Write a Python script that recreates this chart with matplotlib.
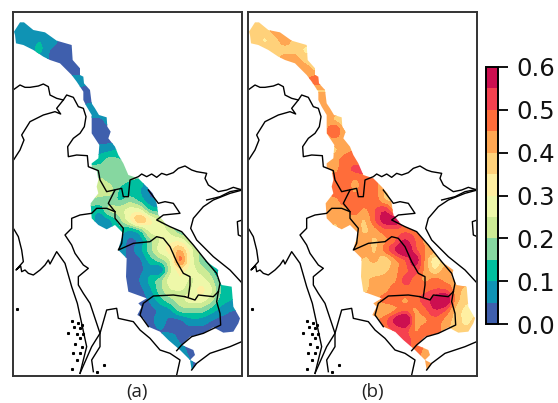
import numpy as np
import matplotlib
matplotlib.use("Agg")
import matplotlib.pyplot as plt
from matplotlib.colors import ListedColormap, BoundaryNorm
from matplotlib.patches import Polygon
from matplotlib.cm import ScalarMappable

W, H = 558, 403

# class limits and colours of the colour bar
levels = [0, .05, .1, .15, .2, .25, .3, .35, .4, .45, .5, .55, .6]
colors = ["#3F5FAD", "#0F93B4", "#00BF9F", "#86D7A0", "#CDEB95", "#EEF8A9",
          "#FFEFA1", "#FFD17A", "#FFA652", "#FF6D3A", "#F5414F", "#CC0F50"]
cbar_ticks = [0.0, 0.1, 0.2, 0.3, 0.4, 0.5, 0.6]

basin_right_upper = [(42,95),(60,67),(72,67),(100,90),(135,97),(170,122),(215,135),(218,180),(240,205),(240,225),
                     (250,230),(252,250),(270,270),(275,310),(285,325),(297,345),(320,352),(322,380),(332,395),
                     (325,415),(345,440),(355,465),(370,490),(385,525),(415,535),(440,560),(458,580)]
basin_lower = [(470,40),(475,75),(500,105),(545,125),(580,165),(620,215),(655,240),(650,260),(665,285),(695,290),
               (700,350),(720,385),(715,400),(700,425),(670,428),(640,412),(610,430),(570,440),(545,465),(580,480),
               (585,495),(570,510),(575,540),(590,520),(570,510),(540,480),(505,450),(480,425),(445,410),(430,385),
               (412,375),(425,350),(415,340),(440,325),(385,305),(378,260),(380,205),(355,180),(360,160),(370,130),
               (345,105),(320,118),(295,105),(275,85),(272,40),(295,10)]
basin_left_upper = [(290,560),(295,540),(290,510),(275,505),(275,490),(295,475),(298,435),(275,400),(275,345),
                    (260,320),(250,300),(250,275),(230,245),(215,225),(180,190),(150,180),(130,170),(100,150),
                    (70,135),(48,130),(45,105)]

china_upper = [(42,268),(60,255),(75,262),(90,262),(115,258),(130,252),(145,260),(150,285),(170,295),(190,300),(200,285),
               (220,292),(235,320),(250,325),(258,350),(253,380),(240,400),(220,415),(203,440),(205,470),(230,465),
               (262,467),(265,500),(295,512),(300,540),(320,575),(365,565),(370,590),(385,590),(390,540),(415,530),
               (425,522),(440,530),(455,522),(470,532),(485,520),(500,525),(520,518),(535,505),(555,498),(575,510),
               (590,515),(620,520),(615,535),(625,555),(655,575),(680,570),(700,562),(727,570)]
india_upper = [(42,478),(60,450),(72,420),(65,405),(90,365),(130,345),(165,335),(182,342),(170,325),(190,300)]
coast_north_upper = [(620,600),(660,590),(690,575),(727,568)]
lao_thai = [(345,0),(325,40),(345,65),(345,85),(370,115),(365,160),(355,180),(400,160),(450,155),(470,140),(490,145),
            (510,170),(530,215),(550,250),(570,260),(570,285),(565,320)]
lao_cam = [(555,320),(585,330),(595,315),(640,320),(655,305)]
thai_cam = [(555,320),(520,315),(460,318),(430,340),(420,375),(445,410)]
cam_viet = [(655,305),(650,335),(660,370),(662,405),(610,430),(575,440),(545,465),(530,482)]
viet_lao = [(655,305),(660,280),(650,250),(620,215),(580,165),(545,125),(510,110),(470,90),(490,75),(540,70),(520,40),
            (495,35),(475,40),(445,0)]
thai_burma_n = [(345,65),(320,55),(290,55),(275,70),(240,75),(215,85),(215,115),(195,135),(215,165),(225,190),(250,225),
                (265,235),(235,260),(235,285),(250,310),(270,340),(290,400),(300,430),(275,470),(240,550)]
gulf_coast = [(280,545),(275,510),(300,470),(300,430),(320,360),(350,355),(355,385),(400,395),(420,420),(450,445),
              (480,480),(510,490),(540,510),(530,555)]
viet_coast = [(727,280),(690,240),(640,200),(590,150),(572,115),(580,85),(610,50),(640,30),(690,10),(727,0)]
burma_coast = [(42,118),(55,140),(65,180),(70,215),(48,240),(62,228),(65,245),(75,240),(85,250),(100,255),(120,240),
               (135,225),(145,210),(150,222),(170,185),(195,220),(215,290),(232,340),(245,400),(260,470),(240,550)]
south_coast = [(575,540),(590,520),(630,490),(690,470),(725,455)]
hainan = [(727,90),(712,95),(715,135),(727,140)]
islands = [(52,358),(215,392),(235,398),(245,405),(222,410),(240,415),(205,430),(232,432),(250,432),(240,445),(225,462),
           (245,470),(220,490),(240,490),(232,510),(215,538),(312,525),(290,545)]

# grid rows {y: (first x, values in percent)} step 10 in image pixels
panel_a = {
    20: (10, [8,8,8]),
    30: (10, [8,8,8,8,8]),
    40: (10, [8,8,8,10,8,4,4]),
    50: (20, [8,8,12,4,4,4]),
    60: (40, [8,4,2,2,2]),
    70: (60, [2,2,2]),
    80: (70, [8,8]),
    90: (80, [3,3]),
    100: (80, [3,3]),
    110: (90, [10,10]),
    120: (90, [3,3,8]),
    130: (90, [3,3,3]),
    140: (100, [3,3]),
    150: (100, [8,8,12]),
    160: (90, [12,12,18,15]),
    170: (90, [18,18,18,18]),
    180: (100, [21,18,18,15]),
    190: (100, [23,23,13,10,10,3]),
    200: (90, [20,18,18,13,18,12,5]),
    210: (90, [12,10,23,23,28,26,12]),
    220: (90, [13,5,8,18,30,46,32,23]),
    230: (100, [10,8,13,8,13,28,28,23,13]),
    240: (120, [8,3,5,18,25,28,28,18]),
    250: (120, [8,3,8,18,28,33,42,28,18]),
    260: (130, [3,3,12,18,23,52,28,18,8]),
    270: (130, [3,3,8,0,23,32,28,23,18,5]),
    280: (130, [3,5,12,18,28,30,23,28,23,12]),
    290: (130, [3,3,8,18,25,25,23,33,28,15,13]),
    300: (130, [3,3,5,13,18,23,28,28,23,13,10]),
    310: (140, [3,3,5,8,18,18,18,13,8,5]),
    320: (150, [3,8,3,3,8,8,5,3,3,3]),
    330: (160, [5,3,3,3,3,3,3,3]),
    340: (170, [10,3,3,5]),
    350: (180, [8,3]),
    360: (190, [5]),
    370: (190, [5]),
}
panel_b = {
    20: (10, [38,38,38]),
    30: (10, [38,38,38,43,43]),
    40: (10, [38,38,33,38,43,38,38]),
    50: (20, [38,38,38,38,38,33]),
    60: (40, [38,43,43,38]),
    70: (60, [43,43,38]),
    80: (70, [43,50]),
    90: (80, [38,38]),
    100: (80, [45,45]),
    110: (90, [43,43]),
    120: (90, [43,38,33]),
    130: (90, [43,53,38]),
    140: (100, [43,43]),
    150: (100, [38,43,45]),
    160: (90, [43,43,48,48]),
    170: (100, [43,48,52]),
    180: (100, [48,48,43,48]),
    190: (90, [48,48,48,43,48,48,38]),
    200: (90, [43,43,48,48,48,48,38]),
    210: (90, [43,43,43,48,43,50,56,40]),
    220: (90, [43,40,43,43,38,50,60,62,48]),
    230: (100, [38,43,43,38,43,48,48,48,48]),
    240: (120, [38,43,38,43,48,56,50,43]),
    250: (120, [43,43,38,48,56,66,50,45,43]),
    260: (130, [38,43,33,43,48,62,43,28,38]),
    270: (130, [38,33,38,43,48,53,43,33,43,43]),
    280: (130, [38,43,43,43,53,48,43,48,43,43]),
    290: (130, [38,43,43,48,48,48,48,50,50,43,38]),
    300: (130, [43,43,48,48,43,48,53,58,68,43,36]),
    310: (140, [43,38,43,48,43,48,56,50,38,33]),
    320: (150, [48,58,68,43,43,48,43,38,33,36]),
    330: (160, [50,52,43,48,48,43,36,36]),
    340: (170, [53,48,48,43]),
    350: (180, [48,43]),
    360: (190, [43]),
    370: (190, [43]),
}


def upper(pts):
    return [(x / 3, y / 3) for x, y in pts]


def lower(pts):
    return [(x / 3, 190 + y / 3) for x, y in pts]


def make_grid(rows):
    xs = np.arange(0, 261, 10)
    ys = np.arange(0, 391, 10)
    px, py, pv = [], [], []
    for y, (x0, vals) in rows.items():
        for i, v in enumerate(vals):
            px.append(x0 + i * 10)
            py.append(y)
            pv.append(v / 100)
    px, py, pv = np.array(px), np.array(py), np.array(pv)
    # outside the rows: nearest read value, the basin clip hides it anyway
    X, Y = np.meshgrid(xs, ys)
    d = (X[..., None] - px) ** 2 + (Y[..., None] - py) ** 2
    Z = pv[d.argmin(axis=-1)]

    # finer grid and a small box filter so the classes come out rounder
    fx = np.arange(0, 261, 2.5)
    fy = np.arange(0, 391, 2.5)
    Z = np.array([np.interp(fx, xs, r) for r in Z])
    Z = np.array([np.interp(fy, ys, c) for c in Z.T]).T
    k = np.ones(3) / 3
    Z = np.apply_along_axis(lambda r: np.convolve(r, k, mode="same"), 1, Z)
    Z = np.apply_along_axis(lambda c: np.convolve(c, k, mode="same"), 0, Z)
    FX, FY = np.meshgrid(fx, fy)
    return FX, FY, np.clip(Z, 0, 0.6)


basin = upper(basin_right_upper) + lower(basin_lower) + upper(basin_left_upper)
lines = [upper(l) for l in (china_upper, india_upper, coast_north_upper)]
lines += [lower(l) for l in (lao_thai, lao_cam, thai_cam, cam_viet, viet_lao, thai_burma_n,
                             gulf_coast, viet_coast, burma_coast, south_coast, hainan)]
isl = np.array(lower(islands))

cmap = ListedColormap(colors)
norm = BoundaryNorm(levels, cmap.N)

plt.rcParams["font.family"] = "DejaVu Sans"
fig = plt.figure(figsize=(W / 100, H / 100), dpi=100)


def add_panel(left, rows, label, label_x):
    ax = fig.add_axes([left / W, 1 - 376 / H, 229 / W, 364 / H])
    X, Y, Z = make_grid(rows)
    cs = ax.contourf(X, Y, Z, levels=levels, cmap=cmap, norm=norm)
    cs.set_clip_path(Polygon(basin, closed=True, transform=ax.transData))
    for l in lines:
        pts = np.array(l)
        ax.plot(pts[:, 0], pts[:, 1], color="black", lw=1.0)
    ax.plot(isl[:, 0], isl[:, 1], ls="none", marker="s", ms=1.2, color="black")
    ax.set_xlim(13, 242)
    ax.set_ylim(376, 12)
    ax.set_xticks([])
    ax.set_yticks([])
    for s in ax.spines.values():
        s.set_linewidth(1.4)
        s.set_color("#333333")
    fig.text(label_x / W, 1 - 392 / H, label, fontsize=13.5, family="Open Sans",
             ha="center", va="center", color="#222222")


add_panel(13, panel_a, "(a)", 137)
add_panel(248, panel_b, "(b)", 373)

cax = fig.add_axes([486 / W, 1 - 324 / H, 12 / W, 257 / H])
cb = fig.colorbar(ScalarMappable(norm=norm, cmap=cmap), cax=cax, ticks=cbar_ticks, spacing="proportional")
cb.ax.set_yticklabels(["%.1f" % t for t in cbar_ticks])
cb.ax.minorticks_off()
cb.ax.tick_params(labelsize=17.5, length=7, width=1.4, pad=6, colors="#111111")
cb.outline.set_linewidth(1.4)

fig.savefig("out.png", dpi=100)
